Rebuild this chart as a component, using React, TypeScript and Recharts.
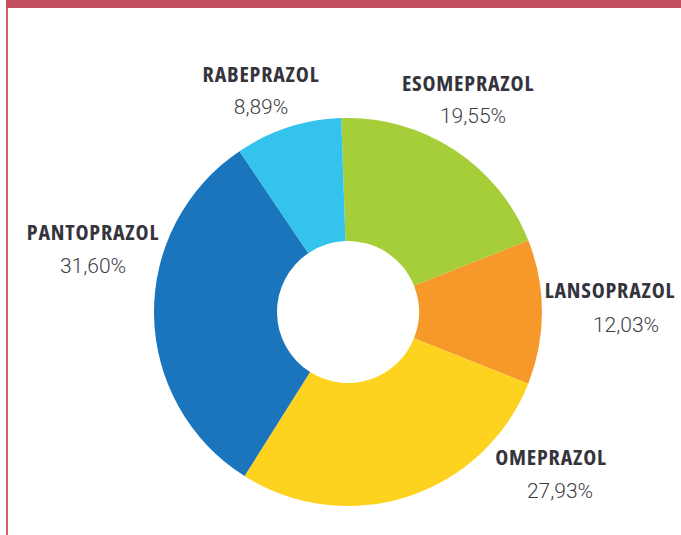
import { PieChart, Pie, Cell } from 'recharts';

const drugs = ['ESOMEPRAZOL', 'LANSOPRAZOL', 'OMEPRAZOL', 'PANTOPRAZOL', 'RABEPRAZOL'];
const shares = [19.55, 12.03, 27.93, 31.6, 8.89];
const shareLabels = ['19,55%', '12,03%', '27,93%', '31,60%', '8,89%'];

const sliceColors = ['#A6CE39', '#F7992A', '#FDD320', '#1B75BC', '#33C3EC'];

// hand placed label spots (name x, name baseline, pct x, pct baseline)
const labelSpots: Record<string, number[]> = {
  ESOMEPRAZOL: [468, 91, 473, 123],
  LANSOPRAZOL: [610, 298, 626, 332],
  OMEPRAZOL: [551, 465, 560, 498],
  PANTOPRAZOL: [93, 240, 93, 273],
  RABEPRAZOL: [261, 82, 261, 114],
};

const data = drugs.map((name, i) => ({ name, value: shares[i], pct: shareLabels[i] }));

const renderLabel = (props: any) => {
  const spot = labelSpots[props.name];
  if (!spot) return null;
  return (
    <g>
      <text
        x={spot[0]}
        y={spot[1]}
        textAnchor="middle"
        fill="#35343C"
        fontFamily="'Open Sans', 'DejaVu Sans Condensed', sans-serif"
        fontStretch="condensed"
        fontWeight={700}
        fontSize={22}
        letterSpacing={0.8}
      >
        {props.name}
      </text>
      <text
        x={spot[2]}
        y={spot[3]}
        textAnchor="middle"
        fill="#3F3E46"
        fontFamily="Roboto, sans-serif"
        fontWeight={300}
        fontSize={21}
      >
        {props.payload.pct}
      </text>
    </g>
  );
};

export default function App() {
  return (
    <div style={{ position: 'fixed', left: 0, top: 0, width: 681, height: 535, background: '#fff' }}>
      <div style={{ position: 'absolute', left: 6, top: 0, width: 675, height: 8, background: '#C2505F' }} />
      <div style={{ position: 'absolute', left: 6, top: 8, width: 2, height: 527, background: '#D0606F' }} />
      <PieChart width={681} height={535} style={{ position: 'absolute', left: 0, top: 0 }}>
        <Pie
          data={data}
          dataKey="value"
          nameKey="name"
          cx={343}
          cy={307}
          innerRadius={71}
          outerRadius={194}
          startAngle={92}
          endAngle={-268}
          stroke="none"
          labelLine={false}
          label={renderLabel}
          isAnimationActive={false}
        >
          {data.map((d, i) => (
            <Cell key={d.name} fill={sliceColors[i]} />
          ))}
        </Pie>
      </PieChart>
    </div>
  );
}
